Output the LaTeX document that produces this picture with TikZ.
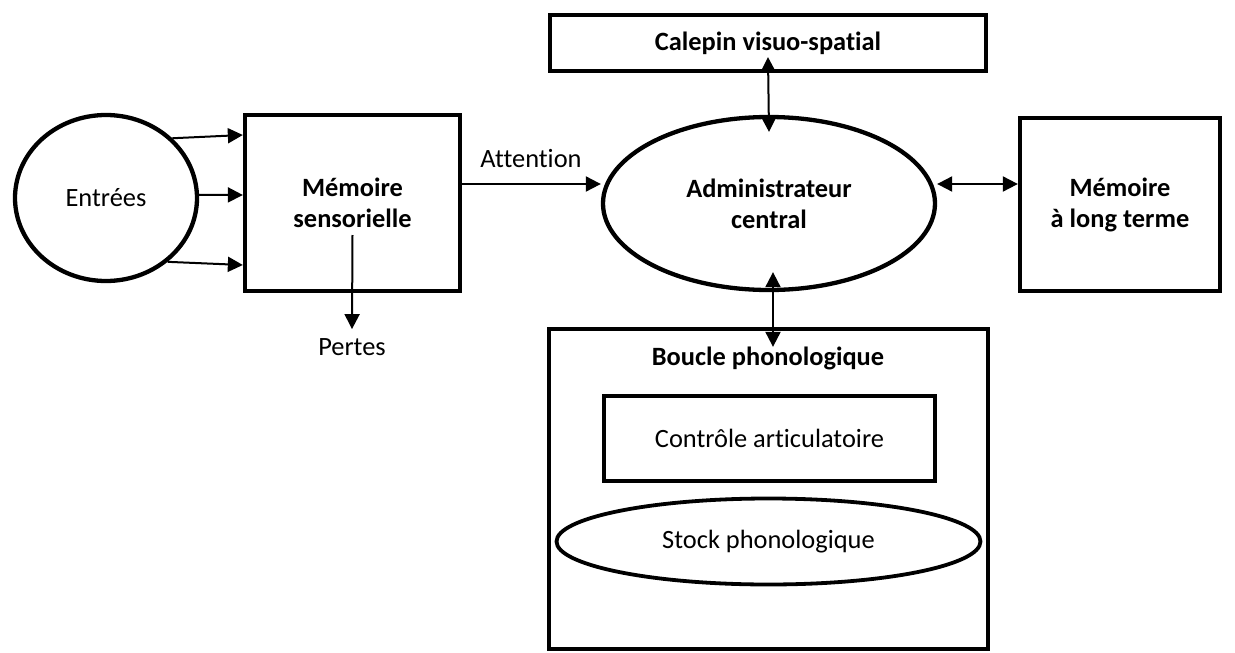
\documentclass[tikz,border=0pt]{standalone}
\usepackage{fontspec}
\setmainfont{Carlito}[Ligatures={NoCommon}]
\usetikzlibrary{arrows.meta,shapes.geometric}
\begin{document}
\begin{tikzpicture}[x=1pt,y=-1pt,
  box/.style={draw,line width=4.3pt,rectangle,inner sep=0pt,align=center},
  oval/.style={draw,line width=4.3pt,ellipse,inner sep=0pt,align=center},
  lbl/.style={inner sep=0pt,outer sep=0pt,anchor=base},
  arr/.style={line width=2pt,-{Triangle[length=15pt,width=15pt]}},
  darr/.style={line width=2pt,{Triangle[length=15pt,width=15pt]}-{Triangle[length=15pt,width=15pt]}},
  font=\fontsize{26.4}{31}\selectfont]
\useasboundingbox (0,0) rectangle (1235,653);

\node[oval,minimum width=182pt,minimum height=166pt] (entrees) at (106,198) {Entrées};
\node[box,minimum width=215pt,minimum height=176pt,font=\fontsize{26.4}{31}\selectfont\bfseries] (sens) at (352.5,203) {Mémoire\\sensorielle};
\node[box,minimum width=436pt,minimum height=56pt,font=\fontsize{26.4}{31}\selectfont\bfseries] (cal) at (768,43) {Calepin visuo-spatial};
\node[oval,minimum width=332pt,minimum height=173pt,font=\fontsize{26.4}{31}\selectfont\bfseries] (admin) at (769,203.5) {Administrateur\\central};
\node[box,minimum width=200pt,minimum height=173pt,font=\fontsize{26.4}{31}\selectfont\bfseries] (mlt) at (1120,204.5) {Mémoire\\à long terme};
\node[box,minimum width=439pt,minimum height=320pt] (boucle) at (768.5,489) {};
\node[lbl,font=\fontsize{26.4}{31}\selectfont\bfseries] (bouclet) at (768,365) {Boucle phonologique};
\node[box,minimum width=331pt,minimum height=85pt] (ctrl) at (769.5,438.5) {Contrôle articulatoire};
\node[oval,line width=3.8pt,minimum width=424pt,minimum height=86pt] (stock) at (768.5,541.5) {Stock phonologique};

\node[lbl] (attn) at (531,167) {Attention};
\node[lbl] (pertes) at (352,355) {Pertes};

\coordinate (t1) at (0,135);
\coordinate (t2) at (0,195);
\coordinate (t3) at (0,265);
\coordinate (ay) at (0,184);

\draw[arr] (entrees.42) -- (sens.west |- t1);
\draw[arr] (entrees.2) -- (sens.west |- t2);
\draw[arr] (entrees.-46) -- (sens.west |- t3);
\draw[arr] ([yshift=-32pt]sens.center) -- ([yshift=9pt]pertes.north);
\draw[arr] (sens.east |- ay) -- (admin.west |- ay);
\draw[darr] (admin.east |- ay) -- (mlt.west |- ay);
\draw[darr] ([yshift=16pt]cal.south) -- ([yshift=-17pt]admin.north);
\draw[darr] ([xshift=4pt,yshift=20pt]admin.south) -- ([xshift=4.5pt,yshift=-20pt]boucle.north);
\end{tikzpicture}
\end{document}
